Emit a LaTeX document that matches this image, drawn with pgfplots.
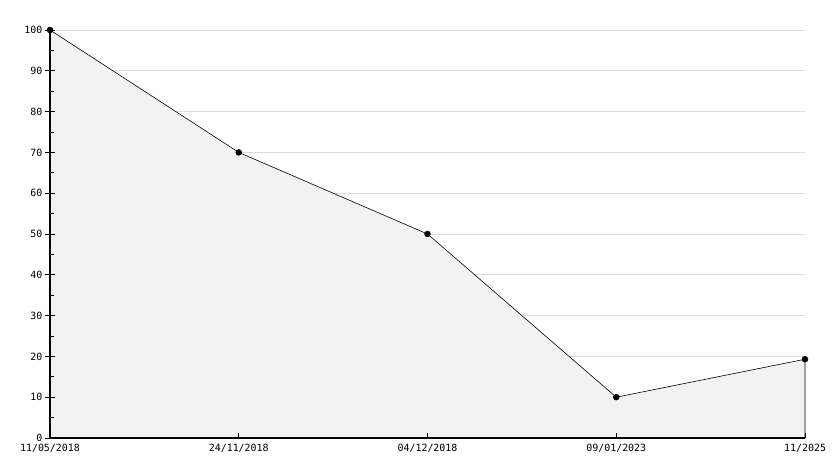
\documentclass[border=0pt]{standalone}
\usepackage{pgfplots}
\pgfplotsset{compat=1.18}
\usepackage{fontspec}
\setmainfont{DejaVu Sans Mono}
\pgfplotsset{
  common/.style={
    scale only axis, width=755bp, height=408bp,
    at={(0,0)}, anchor=south west,
    xmin=0, xmax=4, ymin=0, ymax=100,
    clip=false,
  },
}
\begin{document}
\begin{tikzpicture}
% background: grid and filled series
\begin{axis}[
  common,
  axis line style={draw=none},
  xtick=\empty, ytick={0,10,...,100}, yticklabels={},
  major tick length=0pt,
  ymajorgrids, major grid style={color=black!14, line width=0.8bp},
]
\addplot[draw=black, fill=black!5, line width=0.6bp, mark=*, mark size=2.9bp, mark options={fill=black}]
  coordinates {(0,100) (1,70) (2,50) (3,10) (4,19.3)} \closedcycle;
\end{axis}
% axes, x ticks, minor y ticks and labels
\begin{axis}[
  common,
  axis x line=bottom, axis y line=left,
  axis line style={-, line width=1.2bp, black},
  xtick={0,1,2,3,4},
  xticklabels={11/05/2018,24/11/2018,04/12/2018,09/01/2023,11/2025},
  ytick={0,10,...,100}, minor y tick num=1,
  tick align=inside, major tick length=5bp, minor tick length=3.5bp,
  every tick/.style={black, line width=0.8bp},
  /pgf/number format/assume math mode=true,
  tick label style={font=\fontsize{10}{11}\selectfont},
  yticklabel style={xshift=-4bp},
  xticklabel style={yshift=-3bp},
]
\end{axis}
% centred major y ticks
\begin{axis}[
  common,
  axis x line=none, axis y line=left,
  axis line style={-, line width=1.2bp, black},
  xtick=\empty, ytick={0,10,...,100}, yticklabels={},
  tick align=center, major tick length=9bp,
  every tick/.style={black, line width=0.8bp},
]
\end{axis}
\path[use as bounding box] (-50bp,-30bp) rectangle (784bp,438bp);
\end{tikzpicture}
\end{document}
